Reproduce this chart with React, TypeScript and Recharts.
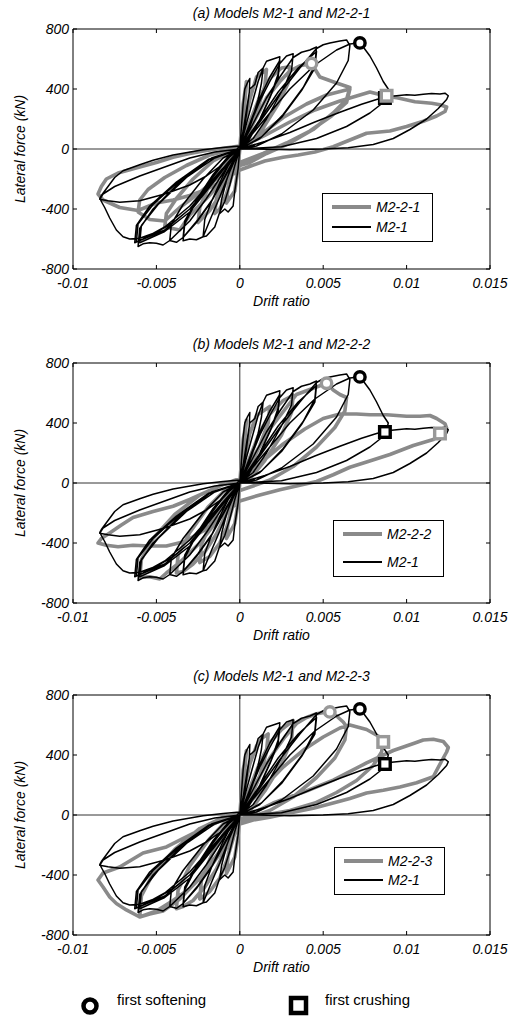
import { ComposedChart, Line, Scatter, XAxis, YAxis, ReferenceLine } from "recharts";

const xTicks = [-0.01, -0.005, 0, 0.005, 0.01, 0.015];
const yTicks = [-800, -400, 0, 400, 800];

// M2-1 (black), same model in all three panels
const m21 = [
  [0, 0], [0.0001, 150], [0.0002, 300], [0.0003, 400], [0.00045, 440], [0.0006, 470],
  [0.00057, 380], [0.0004, 230], [0.0002, 90], [0, 0],
  [-0.0001, -130], [-0.0003, -280], [-0.0004, -380], [-0.0007, -420], [-0.0009, -400], [-0.0012, -430],
  [-0.0011, -340], [-0.0008, -210], [-0.0004, -80], [0, 0],
  [0.0002, 120], [0.0004, 260], [0.0006, 400], [0.0009, 430], [0.0011, 510], [0.0014, 540],
  [0.0013, 440], [0.0011, 330], [0.0007, 180], [0.0003, 60], [0, 0],
  [-0.0003, -110], [-0.0006, -240], [-0.0009, -350], [-0.0012, -420], [-0.0015, -520], [-0.002, -580], [-0.0022, -585],
  [-0.0021, -470], [-0.0017, -350], [-0.0011, -200], [-0.0005, -70], [0, 0],
  [0.0004, 170], [0.0008, 330], [0.0011, 450], [0.0014, 540], [0.0016, 585], [0.002, 600], [0.0024, 615],
  [0.0023, 500], [0.0019, 370], [0.0012, 200], [0.0006, 70], [0, 0],
  [-0.0006, -150], [-0.0012, -320], [-0.0017, -450], [-0.0022, -585], [-0.0026, -605], [-0.003, -600], [-0.0034, -612],
  [-0.0033, -500], [-0.0027, -370], [-0.0017, -200], [-0.0008, -70], [0, 0],
  [0.0006, 170], [0.0012, 340], [0.0018, 480], [0.0024, 590],
  [0.0023, 480], [0.0018, 340], [0.0011, 170], [0.0005, 50], [0, 0],
  [-0.0008, -170], [-0.0017, -350], [-0.0026, -490], [-0.0034, -590],
  [-0.0033, -480], [-0.0026, -340], [-0.0016, -170], [-0.0007, -50], [0, 0],
  [0.0006, 160], [0.0012, 320], [0.0018, 450], [0.0024, 570], [0.0028, 620], [0.0032, 635],
  [0.0031, 520], [0.0025, 380], [0.0016, 200], [0.0008, 70], [0, 0],
  [-0.0008, -160], [-0.0016, -330], [-0.0025, -470], [-0.0034, -590], [-0.0038, -622], [-0.0042, -610],
  [-0.0041, -500], [-0.0034, -370], [-0.0022, -200], [-0.001, -60], [0, 0],
  [0.0008, 170], [0.0016, 340], [0.0024, 480], [0.0032, 610], [0.0037, 645], [0.0042, 660], [0.0046, 680],
  [0.0045, 560], [0.0038, 410], [0.0026, 230], [0.0013, 80], [0, 0],
  [-0.001, -160], [-0.002, -330], [-0.003, -480], [-0.0042, -610], [-0.0046, -640], [-0.005, -628], [-0.0054, -625],
  [-0.0058, -632], [-0.0061, -650],
  [-0.006, -530], [-0.0052, -400], [-0.0036, -220], [-0.0018, -70], [0, 0],
  [0.0011, 180], [0.0023, 380], [0.0035, 540], [0.0046, 650],
  [0.0045, 540], [0.0037, 390], [0.0025, 210], [0.0012, 70], [0, 0],
  [-0.0015, -210], [-0.003, -420], [-0.0045, -550], [-0.006, -625],
  [-0.0059, -510], [-0.0049, -370], [-0.0032, -190], [-0.0015, -60], [0, 0],
  [0.0012, 180], [0.0024, 370], [0.0036, 540], [0.0046, 670], [0.005, 695], [0.0054, 707], [0.006, 720],
  [0.0064, 727], [0.0066, 690],
  [0.0065, 590], [0.0058, 440], [0.0044, 260], [0.0025, 100], [0.001, 20], [0, 0],
  [-0.0015, -200], [-0.003, -400], [-0.0045, -540], [-0.0062, -620],
  [-0.0061, -500], [-0.0052, -370], [-0.0035, -200], [-0.0017, -60], [0, 0],
  [0.0015, 200], [0.003, 400], [0.0045, 560], [0.0058, 660], [0.0066, 700], [0.0071, 707],
  [0.0074, 680], [0.0078, 620], [0.0082, 540], [0.0086, 450], [0.0089, 400], [0.0088, 350],
  [0.0086, 310], [0.0078, 240], [0.0064, 150], [0.0046, 70], [0.0025, 15], [0, 0],
  [-0.0015, -190], [-0.003, -380], [-0.0045, -520], [-0.0058, -600], [-0.0063, -625],
  [-0.0062, -510], [-0.0054, -380], [-0.0038, -220], [-0.0019, -70], [0, 0],
  [0.0015, 50], [0.003, 110], [0.0045, 180], [0.006, 245], [0.0073, 298], [0.0082, 330], [0.0088, 348],
  [0.0094, 355], [0.01, 362], [0.0105, 358], [0.011, 365], [0.0115, 370], [0.012, 366], [0.0123, 372], [0.0125, 355],
  [0.0124, 330], [0.0119, 270], [0.0112, 200], [0.0102, 130], [0.0092, 70], [0.008, 30], [0.0065, 8], [0.005, 0],
  [0.003, -5], [0.001, 0], [0, 0],
  [-0.001, -140], [-0.002, -280], [-0.003, -400], [-0.004, -490], [-0.005, -555], [-0.006, -595], [-0.0066, -600],
  [-0.007, -585], [-0.0074, -540], [-0.0078, -460], [-0.0081, -390], [-0.0084, -330],
  [-0.0083, -310], [-0.0079, -250], [-0.0075, -190], [-0.007, -145], [-0.006, -105], [-0.0052, -75], [-0.004, -40],
  [-0.0022, -5], [-0.001, 10], [0, 20],
  [-0.001, -100], [-0.002, -180], [-0.003, -240], [-0.0045, -300], [-0.006, -345], [-0.0072, -355], [-0.0079, -345],
  [-0.0084, -335],
  [-0.0082, -300], [-0.0075, -250], [-0.006, -180], [-0.0045, -120], [-0.003, -60], [-0.0015, -20], [0, 0],
];

// M2-2-1 (grey, panel a)
const m221 = [
  [0, 0], [0.0001, 150], [0.0002, 300], [0.0004, 450], [0.0003, 300], [0.0002, 150], [0, 0],
  [-0.0001, -120], [-0.0003, -280], [-0.0008, -360], [-0.0007, -250], [-0.0004, -120], [0, 0],
  [0.0003, 180], [0.0006, 330], [0.001, 480], [0.0016, 530], [0.0015, 420], [0.0011, 280], [0.0006, 120], [0, 0],
  [-0.0004, -150], [-0.0008, -300], [-0.0012, -400], [-0.0015, -430],
  [-0.0014, -330], [-0.001, -200], [-0.0005, -70], [0, 0],
  [0.0006, 180], [0.0012, 350], [0.0018, 470], [0.0025, 540], [0.003, 548],
  [0.0029, 440], [0.0023, 300], [0.0014, 140], [0.0006, 30], [0, 0],
  [-0.0006, -160], [-0.0012, -310], [-0.0018, -410], [-0.0025, -490],
  [-0.0024, -390], [-0.0019, -260], [-0.0011, -110], [0, 0],
  [0.0008, 170], [0.0016, 340], [0.0024, 450], [0.003, 520], [0.0036, 555], [0.0043, 570],
  [0.0048, 480], [0.0058, 440], [0.0066, 410],
  [0.0064, 330], [0.0056, 240], [0.0044, 130], [0.003, 40], [0.0016, -30], [0.0006, -90], [0, -110],
  [-0.001, -210], [-0.002, -330], [-0.003, -440], [-0.0036, -540], [-0.0045, -520],
  [-0.0044, -430], [-0.0038, -330], [-0.0028, -200], [-0.0016, -80], [0, 10],
  [0.0013, 100], [0.0026, 210], [0.004, 300], [0.0052, 360], [0.0066, 400],
  [0.0064, 310], [0.0055, 220], [0.0042, 120], [0.0028, 40], [0.0014, -30], [0, -90],
  [-0.0012, -180], [-0.0024, -290], [-0.0036, -390], [-0.0045, -480], [-0.0054, -470], [-0.0061, -420],
  [-0.006, -340], [-0.0055, -270], [-0.0045, -190], [-0.0032, -110], [-0.0018, -40], [0, 10],
  [0.0015, 90], [0.003, 180], [0.0045, 260], [0.006, 320], [0.0072, 360], [0.0078, 380], [0.0088, 352],
  [0.0095, 340], [0.0105, 315], [0.0115, 305], [0.012, 295], [0.0124, 280],
  [0.0123, 250], [0.0118, 220], [0.011, 185], [0.01, 150], [0.009, 120], [0.0076, 105], [0.0066, 60], [0.0056, 15],
  [0.0045, -20], [0.0035, -40], [0.0026, -55], [0.0015, -80], [0.0005, -120], [0, -140],
  [-0.001, -210], [-0.002, -270], [-0.003, -310], [-0.004, -340], [-0.005, -360], [-0.0061, -410], [-0.0072, -390],
  [-0.0082, -340], [-0.0085, -300],
  [-0.0083, -250], [-0.008, -200], [-0.0073, -160], [-0.006, -120], [-0.005, -90], [-0.004, -55], [-0.003, -30],
  [-0.002, -10], [-0.001, 5], [0, 20],
];

// M2-2-2 (grey, panel b)
const m222 = [
  [0, 0], [0.0001, 150], [0.0002, 290], [0.0004, 420], [0.0003, 290], [0.0002, 140], [0, 0],
  [-0.0001, -130], [-0.0003, -270], [-0.0008, -370], [-0.0007, -260], [-0.0004, -120], [0, 0],
  [0.0003, 180], [0.0006, 330], [0.001, 450], [0.0014, 480], [0.0018, 510],
  [0.0017, 400], [0.0012, 250], [0.0006, 100], [0, 0],
  [-0.0004, -150], [-0.0008, -300], [-0.0012, -400], [-0.0018, -490], [-0.0024, -530],
  [-0.0023, -410], [-0.0017, -260], [-0.0009, -110], [0, 0],
  [0.0006, 170], [0.0012, 340], [0.0018, 460], [0.0026, 550], [0.0032, 585],
  [0.0031, 470], [0.0025, 320], [0.0015, 150], [0.0007, 40], [0, 0],
  [-0.0007, -180], [-0.0014, -340], [-0.0021, -460], [-0.0028, -540], [-0.0034, -590], [-0.0038, -600],
  [-0.0037, -480], [-0.003, -330], [-0.0019, -160], [-0.0009, -50], [0, 0],
  [0.0009, 190], [0.0018, 360], [0.0027, 490], [0.0034, 590], [0.004, 615], [0.0046, 640], [0.0052, 665],
  [0.0056, 620], [0.006, 590], [0.0064, 570],
  [0.0063, 480], [0.0057, 370], [0.0046, 240], [0.0032, 110], [0.0018, 20], [0.0008, -20], [0, -50],
  [-0.0012, -230], [-0.0024, -400], [-0.0036, -530], [-0.0044, -600], [-0.0048, -640], [-0.0054, -625], [-0.006, -630],
  [-0.0059, -510], [-0.0052, -370], [-0.0039, -210], [-0.0024, -80], [-0.001, -10], [0, 10],
  [0.0013, 140], [0.0026, 260], [0.0039, 360], [0.005, 430], [0.006, 460], [0.007, 460], [0.0078, 455],
  [0.0088, 455], [0.01, 445], [0.0108, 445], [0.0114, 450], [0.0118, 430], [0.0123, 395], [0.0124, 365],
  [0.0121, 330], [0.0116, 290], [0.0104, 250], [0.009, 190], [0.0076, 140], [0.0066, 105], [0.0056, 55],
  [0.0046, 10], [0.0036, -15], [0.0024, -45], [0.0012, -80], [0, -120],
  [-0.0011, -220], [-0.0022, -320], [-0.0033, -390], [-0.0044, -420], [-0.0054, -420], [-0.0064, -415],
  [-0.0073, -425], [-0.008, -415], [-0.0085, -400],
  [-0.0083, -370], [-0.0078, -333], [-0.0071, -280], [-0.0064, -230], [-0.0052, -190], [-0.004, -155],
  [-0.003, -110], [-0.002, -60], [-0.001, -10], [0, 30],
];

// M2-2-3 (grey, panel c)
const m223 = [
  [0, 0], [0.0001, 150], [0.0002, 300], [0.0004, 430], [0.0003, 300], [0.0002, 140], [0, 0],
  [-0.0001, -140], [-0.0003, -280], [-0.0008, -390], [-0.0007, -270], [-0.0004, -120], [0, 0],
  [0.0003, 190], [0.0006, 340], [0.001, 460], [0.0013, 510], [0.0017, 540],
  [0.0016, 420], [0.0012, 260], [0.0006, 100], [0, 0],
  [-0.0004, -160], [-0.0008, -310], [-0.0012, -420], [-0.0018, -510], [-0.0024, -560],
  [-0.0023, -430], [-0.0017, -270], [-0.0009, -110], [0, 0],
  [0.0006, 180], [0.0012, 350], [0.0018, 480], [0.0025, 570], [0.0032, 630],
  [0.0031, 500], [0.0025, 340], [0.0015, 160], [0.0007, 40], [0, 0],
  [-0.0007, -190], [-0.0014, -360], [-0.0021, -480], [-0.0028, -570], [-0.0034, -610], [-0.0038, -625],
  [-0.0037, -500], [-0.003, -340], [-0.0019, -170], [-0.0009, -50], [0, 0],
  [0.0009, 200], [0.0018, 380], [0.0027, 520], [0.0034, 610], [0.004, 650], [0.0046, 675], [0.0054, 690],
  [0.0058, 660], [0.0062, 620], [0.0064, 590],
  [0.0063, 500], [0.0057, 380], [0.0046, 250], [0.0032, 120], [0.0018, 30], [0.0008, -10], [0, -40],
  [-0.0012, -240], [-0.0024, -420], [-0.0036, -560], [-0.0046, -640], [-0.0054, -660], [-0.006, -680],
  [-0.0059, -540], [-0.0052, -390], [-0.0039, -230], [-0.0024, -90], [-0.001, -15], [0, 10],
  [0.0013, 170], [0.0026, 320], [0.0039, 440], [0.005, 520], [0.006, 580], [0.0066, 600], [0.0076, 570],
  [0.0084, 520], [0.0086, 490],
  [0.0085, 420], [0.008, 330], [0.007, 230], [0.0058, 150], [0.0045, 80], [0.003, 30], [0.0015, 0], [0, -30],
  [0.002, 80], [0.004, 160], [0.0056, 233], [0.0076, 347], [0.0092, 430], [0.0105, 480], [0.011, 500],
  [0.0116, 505], [0.0122, 490], [0.0125, 450], [0.0124, 420], [0.0121, 360], [0.0116, 255], [0.0106, 215],
  [0.0096, 187], [0.0086, 165], [0.0076, 147], [0.0066, 110], [0.0056, 80], [0.0044, 45], [0.003, 13],
  [0.0018, -15], [0.0008, -33], [0, -60],
  [-0.001, -230], [-0.002, -380], [-0.003, -490], [-0.004, -570], [-0.005, -640], [-0.006, -680], [-0.0068, -633],
  [-0.0074, -590], [-0.0078, -547], [-0.0082, -480], [-0.0085, -433],
  [-0.0082, -387], [-0.0072, -347], [-0.0058, -253], [-0.0044, -213], [-0.0024, -100], [-0.001, -30], [0, 0],
];

const blackSoftening = [{ x: 0.0072, y: 707 }];
const blackCrushing = [{ x: 0.0087, y: 340 }];

const panels = [
  {
    top: 0, titleY: 13, title: "(a) Models M2-1 and M2-2-1", name: "M2-2-1", grey: m221,
    greySoftening: [{ x: 0.0043, y: 570 }], greyCrushing: [{ x: 0.0088, y: 355 }],
    legend: { left: 322, top: 193, height: 49 },
  },
  {
    top: 334, titleY: 10, title: "(b) Models M2-1 and M2-2-2", name: "M2-2-2", grey: m222,
    greySoftening: [{ x: 0.0052, y: 665 }], greyCrushing: [{ x: 0.012, y: 330 }],
    legend: { left: 333, top: 186, height: 57 },
  },
  {
    top: 666, titleY: 10, title: "(c) Models M2-1 and M2-2-3", name: "M2-2-3", grey: m223,
    greySoftening: [{ x: 0.0054, y: 687 }], greyCrushing: [{ x: 0.0086, y: 487 }],
    legend: { left: 334, top: 181, height: 48 },
  },
];

const GREY = "#8a8a8a";
const FONT = "'Liberation Sans', Arial, sans-serif";

const pts = (a: number[][]) => a.map(([x, y]) => ({ x, y }));

const ring = (color: string) => (p: any) => (
  <circle cx={p.cx} cy={p.cy} r={5.2} fill="#fff" stroke={color} strokeWidth={3.4} />
);
const box = (color: string) => (p: any) => (
  <rect x={p.cx - 5.3} y={p.cy - 5.3} width={10.6} height={10.6} fill="#fff" stroke={color} strokeWidth={3.4} />
);

const XTick = (p: any) => (
  <text x={p.x} y={p.y} dy={10} textAnchor="middle" fill="#000" style={{ font: `italic 14px ${FONT}` }}>
    {String(p.payload.value)}
  </text>
);
const YTick = (p: any) => (
  <text x={p.x} y={p.y} dy={5} textAnchor="end" fill="#000" style={{ font: `italic 14px ${FONT}` }}>
    {String(p.payload.value)}
  </text>
);

function Panel({ p }: { p: (typeof panels)[number] }) {
  return (
    <div style={{ position: "absolute", left: 0, top: p.top, width: 513, height: 300 }}>
      <ComposedChart width={513} height={300} margin={{ top: 28, right: 22, bottom: 11, left: 0 }}>
        <XAxis
          dataKey="x" type="number" domain={[-0.01, 0.015]} ticks={xTicks} allowDataOverflow
          tickSize={-4} tickMargin={13} height={20} interval={0} stroke="#000" tick={XTick}
        />
        <XAxis
          xAxisId="top" orientation="top" dataKey="x" type="number" domain={[-0.01, 0.015]} ticks={xTicks}
          allowDataOverflow tickSize={-4} height={1} stroke="#000" tickFormatter={() => ""}
        />
        <YAxis
          dataKey="y" type="number" domain={[-800, 800]} ticks={yTicks} allowDataOverflow
          tickSize={-4} tickMargin={8} width={73} interval={0} stroke="#000" tick={YTick}
        />
        <YAxis
          yAxisId="right" orientation="right" type="number" domain={[-800, 800]} ticks={yTicks}
          allowDataOverflow tickSize={-4} width={1} stroke="#000" tickFormatter={() => ""}
        />
        <ReferenceLine x={0} stroke="#000" strokeWidth={0.8} />
        <ReferenceLine y={0} stroke="#000" strokeWidth={0.8} />
        <Line
          data={pts(p.grey)} dataKey="y" stroke={GREY} strokeWidth={3.6} dot={false}
          strokeLinejoin="round" isAnimationActive={false}
        />
        <Line
          data={pts(m21)} dataKey="y" stroke="#000" strokeWidth={1.5} dot={false}
          strokeLinejoin="round" isAnimationActive={false}
        />
        <Scatter data={blackCrushing} dataKey="y" shape={box("#000")} isAnimationActive={false} />
        <Scatter data={p.greyCrushing} dataKey="y" shape={box("#999")} isAnimationActive={false} />
        <Scatter data={p.greySoftening} dataKey="y" shape={ring("#999")} isAnimationActive={false} />
        <Scatter data={blackSoftening} dataKey="y" shape={ring("#000")} isAnimationActive={false} />
      </ComposedChart>

      <div style={{ position: "absolute", left: 73, width: 417, top: p.titleY - 8, textAlign: "center", font: `italic 14px ${FONT}`, lineHeight: "16px" }}>
        {p.title}
      </div>
      <div style={{ position: "absolute", left: 73, width: 417, top: 293, textAlign: "center", font: `italic 14px ${FONT}`, lineHeight: "16px" }}>
        Drift ratio
      </div>
      <div
        style={{
          position: "absolute", left: 20, top: 149, width: 160, marginLeft: -80, marginTop: -8,
          textAlign: "center", transform: "rotate(-90deg)", font: `italic 14px ${FONT}`, lineHeight: "16px",
        }}
      >
        Lateral force (kN)
      </div>

      <div
        style={{
          position: "absolute", left: p.legend.left, top: p.legend.top, width: 111, height: p.legend.height,
          border: "1px solid #000", background: "#fff", boxSizing: "border-box", font: `italic 14px ${FONT}`,
        }}
      >
        {[
          { name: p.name, color: GREY, w: 4 },
          { name: "M2-1", color: "#000", w: 1.5 },
        ].map((it, i) => (
          <div key={it.name} style={{ position: "absolute", left: 0, top: i === 0 ? 5 : p.legend.height - 24, height: 16, width: 111 }}>
            <div style={{ position: "absolute", left: 9, width: 39, top: 8 - it.w / 2, height: it.w, background: it.color }} />
            <div style={{ position: "absolute", left: 53, top: 0, lineHeight: "16px" }}>{it.name}</div>
          </div>
        ))}
      </div>
    </div>
  );
}

export default function App() {
  return (
    <div style={{ position: "absolute", left: 0, top: 0, width: 513, height: 1019, background: "#fff" }}>
      {panels.map((p) => (
        <Panel key={p.name} p={p} />
      ))}
      <svg style={{ position: "absolute", left: 0, top: 990 }} width={513} height={29}>
        <circle cx={90} cy={16} r={6.5} fill="#fff" stroke="#000" strokeWidth={4.5} />
        <rect x={291} y={8} width={15} height={15} fill="#fff" stroke="#000" strokeWidth={4.5} />
      </svg>
      <div style={{ position: "absolute", left: 117, top: 991, font: `15px ${FONT}`, lineHeight: "18px" }}>first softening</div>
      <div style={{ position: "absolute", left: 325, top: 991, font: `15px ${FONT}`, lineHeight: "18px" }}>first crushing</div>
    </div>
  );
}
